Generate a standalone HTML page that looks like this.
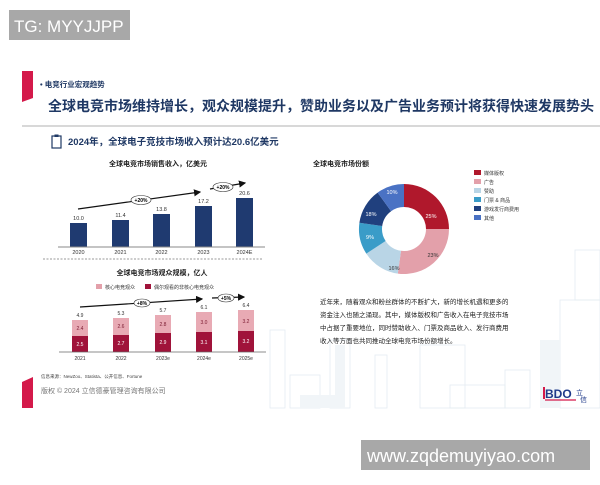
<!DOCTYPE html>
<html><head><meta charset="utf-8"><style>
body{margin:0;width:600px;height:480px;background:#fff;overflow:hidden;font-family:"Liberation Sans","Noto Sans CJK SC",sans-serif;}
</style></head><body>
<svg width="600" height="480" viewBox="0 0 600 480" xmlns="http://www.w3.org/2000/svg" font-family="Liberation Sans, Noto Sans CJK SC, sans-serif">
<defs><marker id="ah" markerWidth="6" markerHeight="6" refX="5" refY="3" orient="auto"><path d="M0,0 L6,3 L0,6 z" fill="#111"/></marker></defs>
<g stroke="#e4ecf2" stroke-width="0.8" fill="none">
<rect x="330" y="340" width="20" height="68"/><rect x="375" y="355" width="12" height="53"/><rect x="420" y="345" width="45" height="63"/>
<rect x="450" y="385" width="55" height="23"/><rect x="505" y="370" width="25" height="38"/><rect x="270" y="330" width="15" height="78"/>
<rect x="560" y="300" width="40" height="108"/><rect x="290" y="375" width="30" height="33"/><rect x="575" y="250" width="25" height="50"/>
</g>
<g fill="#f1f5f8"><rect x="335" y="345" width="10" height="63"/><rect x="540" y="340" width="20" height="68"/><rect x="300" y="395" width="35" height="13"/></g>
<rect x="9" y="10" width="121" height="30" fill="#a8a8a8"/>
<text x="14" y="32" font-size="17" fill="#fff">TG: MYYJJPP</text>
<path d="M22,71 L33,71 L33,98 L22,102 z" fill="#d4194a"/>
<text x="40" y="87" font-size="7.5" font-weight="bold" fill="#1f3864">• 电竞行业宏观趋势</text>
<text x="48" y="111" font-size="14" font-weight="bold" fill="#1f3864">全球电竞市场维持增长，观众规模提升，赞助业务以及广告业务预计将获得快速发展势头</text>
<line x1="22" y1="126" x2="600" y2="126" stroke="#999" stroke-width="0.8"/>
<rect x="52" y="136" width="9" height="12" fill="none" stroke="#1f3864" stroke-width="1.2"/><rect x="54.5" y="134.5" width="4" height="2.5" fill="#1f3864"/>
<text x="68" y="145" font-size="9.5" font-weight="bold" fill="#1f3864">2024年，全球电子竞技市场收入预计达20.6亿美元</text>
<text x="158" y="166" font-size="7" font-weight="bold" fill="#222" text-anchor="middle">全球电竞市场销售收入，亿美元</text>
<g fill="#1f3a70">
<rect x="70" y="223" width="17" height="24"/><rect x="112" y="220" width="17" height="27"/><rect x="153" y="214" width="17" height="33"/><rect x="195" y="206" width="17" height="41"/><rect x="236" y="198" width="17" height="49"/></g>
<line x1="58" y1="247" x2="265" y2="247" stroke="#888" stroke-width="1"/>
<g font-size="5.5" fill="#333" text-anchor="middle">
<text x="78.5" y="220">10.0</text><text x="120.5" y="217">11.4</text><text x="161.5" y="211">13.8</text><text x="203.5" y="203">17.2</text><text x="244.5" y="195">20.6</text>
<text x="78.5" y="254">2020</text><text x="120.5" y="254">2021</text><text x="161.5" y="254">2022</text><text x="203.5" y="254">2023</text><text x="244.5" y="254">2024E</text></g>
<line x1="78" y1="209" x2="200" y2="192" stroke="#111" stroke-width="1.2" marker-end="url(#ah)"/>
<line x1="210" y1="189" x2="245" y2="183" stroke="#111" stroke-width="1.2" marker-end="url(#ah)"/>
<ellipse cx="141" cy="200" rx="10" ry="4.5" fill="#fff" stroke="#333" stroke-width="0.6"/><text x="141" y="202" font-size="5" font-weight="bold" text-anchor="middle">+20%</text>
<ellipse cx="223" cy="187" rx="10" ry="4.5" fill="#fff" stroke="#333" stroke-width="0.6"/><text x="223" y="189" font-size="5" font-weight="bold" text-anchor="middle">+20%</text>
<line x1="43" y1="259" x2="262" y2="259" stroke="#777" stroke-width="0.7" stroke-dasharray="2,1.5"/>
<text x="162" y="275" font-size="7" font-weight="bold" fill="#222" text-anchor="middle">全球电竞市场观众规模，亿人</text>
<rect x="96" y="284" width="6" height="5" fill="#e3a0aa"/><text x="105" y="289" font-size="5" fill="#333">核心电竞观众</text>
<rect x="145" y="284" width="6" height="5" fill="#a0133a"/><text x="154" y="289" font-size="5" fill="#333">偶尔观看的非核心电竞观众</text>
<g fill="#a0133a"><rect x="72" y="336" width="16" height="16"/><rect x="113" y="335" width="16" height="17"/><rect x="155" y="333" width="16" height="19"/><rect x="196" y="332" width="16" height="20"/><rect x="238" y="331" width="16" height="21"/></g>
<g fill="#e8aab4"><rect x="72" y="320" width="16" height="16"/><rect x="113" y="318" width="16" height="17"/><rect x="155" y="315" width="16" height="18"/><rect x="196" y="312" width="16" height="20"/><rect x="238" y="310" width="16" height="21"/></g>
<line x1="59" y1="352" x2="266" y2="352" stroke="#666" stroke-width="0.8"/>
<g font-size="5" text-anchor="middle">
<g fill="#fff"><text x="80" y="346">2.5</text><text x="121" y="345">2.7</text><text x="163" y="344">2.9</text><text x="204" y="344">3.1</text><text x="246" y="343">3.2</text></g>
<g fill="#7a1a30"><text x="80" y="330">2.4</text><text x="121" y="328">2.6</text><text x="163" y="326">2.8</text><text x="204" y="324">3.0</text><text x="246" y="323">3.2</text></g>
<g fill="#333"><text x="80" y="317">4.9</text><text x="121" y="315">5.3</text><text x="163" y="312">5.7</text><text x="204" y="309">6.1</text><text x="246" y="307">6.4</text>
<text x="80" y="360">2021</text><text x="121" y="360">2022</text><text x="163" y="360">2023e</text><text x="204" y="360">2024e</text><text x="246" y="360">2025e</text></g></g>
<line x1="80" y1="307" x2="202" y2="299" stroke="#111" stroke-width="1.2" marker-end="url(#ah)"/>
<line x1="212" y1="298" x2="244" y2="297" stroke="#111" stroke-width="1.2" marker-end="url(#ah)"/>
<ellipse cx="142" cy="303" rx="8" ry="4" fill="#fff" stroke="#333" stroke-width="0.6"/><text x="142" y="305" font-size="5" font-weight="bold" text-anchor="middle">+8%</text>
<ellipse cx="226" cy="298" rx="8" ry="4" fill="#fff" stroke="#333" stroke-width="0.6"/><text x="226" y="300" font-size="5" font-weight="bold" text-anchor="middle">+5%</text>
<text x="41" y="378" font-size="4.5" fill="#444">信息来源：NewZoo、Statista、公开信息、Fortune</text>
<text x="41" y="393" font-size="7" fill="#777">版权 © 2024 立信德豪管理咨询有限公司</text>
<path d="M22,382 L33,377 L33,408 L22,408 z" fill="#d4194a"/>
<text x="313" y="166" font-size="7" font-weight="bold" fill="#222">全球电竞市场份额</text>
<g transform="translate(404,229)">
<path d="M0,-45 A45,45 0 0 1 45,0 L22,0 A22,22 0 0 0 0,-22 z" fill="#b0182c"/>
<path d="M45,0 A45,45 0 0 1 -6.2,44.6 L-3,21.8 A22,22 0 0 0 22,0 z" fill="#e3a0aa"/>
<path d="M-6.2,44.6 A45,45 0 0 1 -37.7,24.6 L-18.4,12 A22,22 0 0 0 -3,21.8 z" fill="#b9d5e6"/>
<path d="M-37.7,24.6 A45,45 0 0 1 -44.6,-6.2 L-21.8,-3 A22,22 0 0 0 -18.4,12 z" fill="#3a9cc8"/>
<path d="M-44.6,-6.2 A45,45 0 0 1 -26.4,-36.4 L-12.9,-17.8 A22,22 0 0 0 -21.8,-3 z" fill="#20407e"/>
<path d="M-26.4,-36.4 A45,45 0 0 1 0,-45 L0,-22 A22,22 0 0 0 -12.9,-17.8 z" fill="#4a72c4"/>
<g font-size="5.5" text-anchor="middle"><text x="27" y="-11" fill="#fff">25%</text><text x="29" y="28" fill="#333">23%</text><text x="-10" y="41" fill="#333">16%</text><text x="-34" y="10" fill="#fff">9%</text><text x="-33" y="-13" fill="#fff">18%</text><text x="-12" y="-35" fill="#fff">10%</text></g>
</g>
<g font-size="5" fill="#333">
<rect x="474" y="170" width="7" height="5" fill="#b0182c"/><text x="484" y="175">媒体版权</text>
<rect x="474" y="179" width="7" height="5" fill="#e3a0aa"/><text x="484" y="184">广告</text>
<rect x="474" y="188" width="7" height="5" fill="#b9d5e6"/><text x="484" y="193">赞助</text>
<rect x="474" y="197" width="7" height="5" fill="#3a9cc8"/><text x="484" y="202">门票 &amp; 商品</text>
<rect x="474" y="206" width="7" height="5" fill="#20407e"/><text x="484" y="211">游戏发行商费用</text>
<rect x="474" y="215" width="7" height="5" fill="#4a72c4"/><text x="484" y="220">其他</text></g>
<g font-size="6.5" fill="#222">
<text x="320" y="304">近年来，随着观众和粉丝群体的不断扩大，新的增长机遇和更多的</text>
<text x="320" y="317">资金注入也随之涌现。其中，媒体版权和广告收入在电子竞技市场</text>
<text x="320" y="330">中占据了重要地位，同时赞助收入、门票及商品收入、发行商费用</text>
<text x="320" y="343">收入等方面也共同推动全球电竞市场份额增长。</text></g>
<rect x="543" y="387" width="2" height="12" fill="#d4194a"/>
<text x="545" y="398" font-size="12" font-weight="bold" fill="#1f3a8a">BDO</text>
<line x1="545" y1="400" x2="576" y2="400" stroke="#d4194a" stroke-width="1.2"/>
<text x="576" y="395" font-size="7" fill="#1f3a8a">立</text><text x="580" y="402" font-size="7" fill="#1f3a8a">信</text>
<rect x="361" y="440" width="229" height="30" fill="#a8a8a8"/>
<text x="367" y="462" font-size="18" fill="#fff">www.zqdemuyiyao.com</text>
</svg>
</body></html>
